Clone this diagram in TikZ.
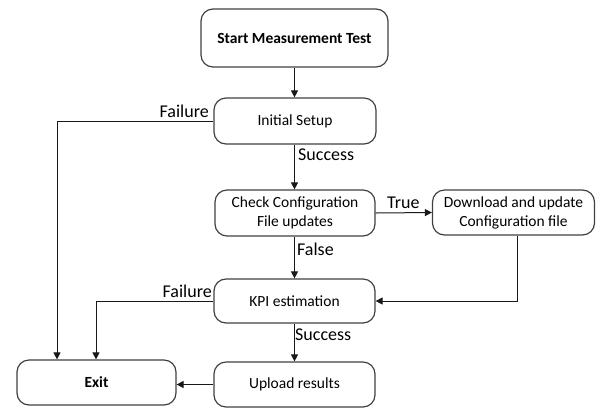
\documentclass[tikz,border=0pt]{standalone}
\usepackage{fontspec}
\setmainfont{Carlito}
\usetikzlibrary{arrows.meta}
\begin{document}
\begin{tikzpicture}[x=1pt,y=-1pt,
  stepbox/.style={draw=black!75,line width=1.2pt,rounded corners=12pt,
    inner sep=0pt,align=center,font=\fontsize{15.5}{19}\selectfont},
  lbl/.style={font=\fontsize{18}{20}\selectfont,inner sep=0pt},
  flow/.style={line width=1pt,draw=black!90,-{Triangle[length=7pt,width=7pt]}}]
\useasboundingbox (0,0) rectangle (596,408);
% process boxes
\node[stepbox,minimum width=187pt,minimum height=58pt,font=\fontsize{15.5}{19}\selectfont\bfseries]
  (start) at (294.5,38) {Start Measurement Test};
\node[stepbox,minimum width=162pt,minimum height=46pt] (setup) at (295,121) {Initial Setup};
\node[stepbox,minimum width=160pt,minimum height=46pt] (check) at (295,213)
  {Check Configuration\\File updates};
\node[stepbox,minimum width=162pt,minimum height=45pt] (down) at (513.5,212.5)
  {Download and update\\Configuration file};
\node[stepbox,minimum width=161pt,minimum height=44pt] (kpi) at (294.5,301) {KPI estimation};
\node[stepbox,minimum width=161pt,minimum height=45pt] (upload) at (294.5,384.5) {Upload results};
\node[stepbox,minimum width=159pt,minimum height=45pt,font=\fontsize{15.5}{19}\selectfont\bfseries]
  (exit) at (96.5,382.5) {Exit};
% connectors
\draw[flow] (start.south -| 294.5,0) -- (setup.north -| 294.5,0);
\draw[flow] (setup.west) -| (exit.north -| 57,0);
\draw[flow] (setup.south -| 294.5,0) -- (check.north -| 294.5,0);
\draw[flow] (check.east) -- (down.west);
\draw[flow] (check.south -| 294.5,0) -- (kpi.north -| 294.5,0);
\draw[flow] (down.south -| 517,0) |- (kpi.east);
\draw[flow] (kpi.west) -| (exit.north -| 96,0);
\draw[flow] (kpi.south -| 294.5,0) -- (upload.north -| 294.5,0);
\draw[flow] (upload.west) -- (exit.east |- upload.west);
% branch labels
\node[lbl,anchor=east] (f1) at (209,111) {Failure};
\node[lbl,anchor=west] (s1) at (298,155) {Success};
\node[lbl,anchor=west] (t1) at (387,203) {True};
\node[lbl,anchor=west] (n1) at (297,249) {False};
\node[lbl,anchor=east] (f2) at (212,291) {Failure};
\node[lbl,anchor=west] (s2) at (295,335) {Success};
\end{tikzpicture}
\end{document}
